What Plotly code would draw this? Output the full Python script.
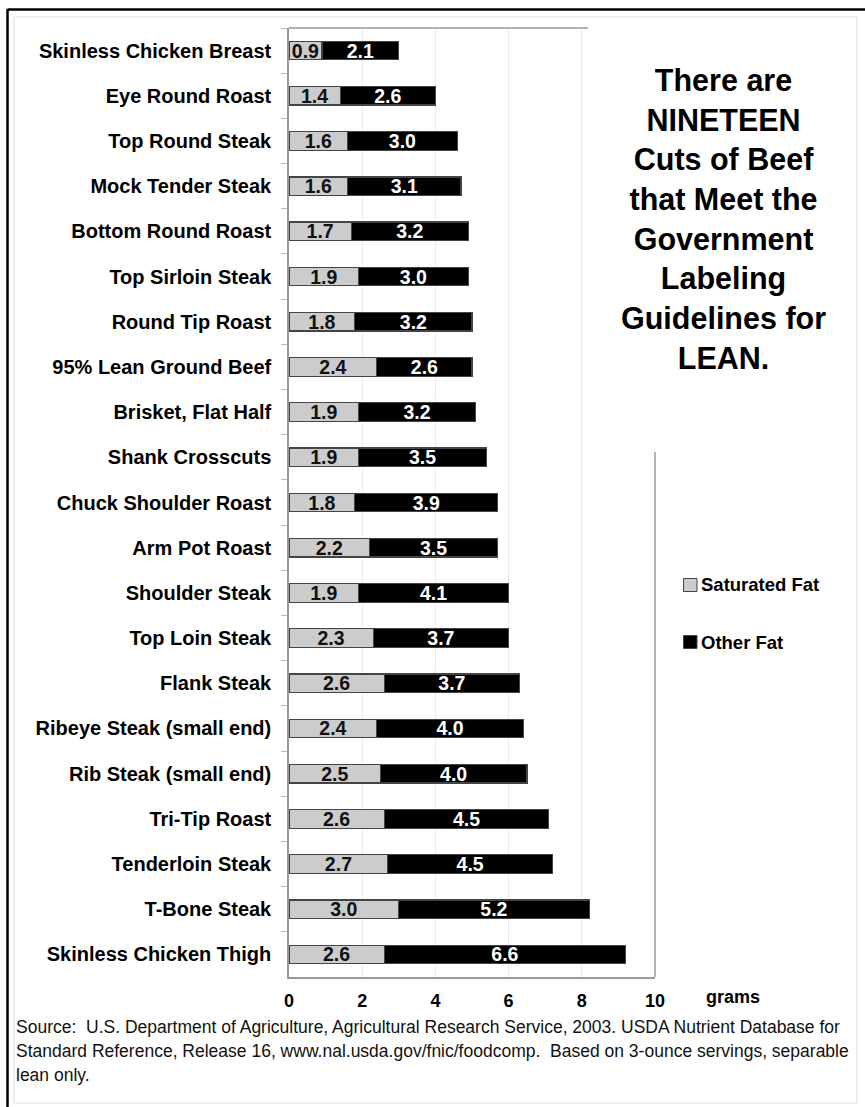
import plotly.graph_objects as go

# Lean cuts, listed top to bottom as drawn
cuts = [
    "Skinless Chicken Breast", "Eye Round Roast", "Top Round Steak",
    "Mock Tender Steak", "Bottom Round Roast", "Top Sirloin Steak",
    "Round Tip Roast", "95% Lean Ground Beef", "Brisket, Flat Half",
    "Shank Crosscuts", "Chuck Shoulder Roast", "Arm Pot Roast",
    "Shoulder Steak", "Top Loin Steak", "Flank Steak",
    "Ribeye Steak (small end)", "Rib Steak (small end)", "Tri-Tip Roast",
    "Tenderloin Steak", "T-Bone Steak", "Skinless Chicken Thigh",
]
saturated_fat = [0.9, 1.4, 1.6, 1.6, 1.7, 1.9, 1.8, 2.4, 1.9, 1.9, 1.8,
                 2.2, 1.9, 2.3, 2.6, 2.4, 2.5, 2.6, 2.7, 3.0, 2.6]
other_fat = [2.1, 2.6, 3.0, 3.1, 3.2, 3.0, 3.2, 2.6, 3.2, 3.5, 3.9,
             3.5, 4.1, 3.7, 3.7, 4.0, 4.0, 4.5, 4.5, 5.2, 6.6]
series_names = ["Saturated Fat", "Other Fat"]
x_ticks = [0, 2, 4, 6, 8, 10]
source_lines = [
    "Source:  U.S. Department of Agriculture, Agricultural Research Service, 2003. "
    "USDA Nutrient Database for",
    "Standard Reference, Release 16, www.nal.usda.gov/fnic/foodcomp.  "
    "Based on 3-ounce servings, separable",
    "lean only.",
]

W, H = 865, 1107
L, R, T, B = 289, 655, 28, 977

def px(x):
    return (x - L) / (R - L)

def py(y):
    return (B - y) / (B - T)

FONT = "Liberation Sans, Arial, sans-serif"
SAT_COLOR = "#cccccc"
OTHER_COLOR = "#000000"

fig = go.Figure()
fig.add_trace(go.Bar(
    y=cuts, x=saturated_fat, orientation="h", name=series_names[0],
    marker=dict(color=SAT_COLOR, line=dict(color="#444444", width=1.2)),
    text=[f"{v:.1f}" for v in saturated_fat], textposition="inside",
    insidetextanchor="middle", constraintext="none",
    textfont=dict(family=FONT, size=19.5, color="#111111", weight="bold"),
    showlegend=False, hoverinfo="x+y",
))
fig.add_trace(go.Bar(
    y=cuts, x=other_fat, orientation="h", name=series_names[1],
    marker=dict(color=OTHER_COLOR, line=dict(color="#444444", width=1.2)),
    text=[f"{v:.1f}" for v in other_fat], textposition="inside",
    insidetextanchor="middle", constraintext="none",
    textfont=dict(family=FONT, size=19.5, color="#ffffff", weight="bold"),
    showlegend=False, hoverinfo="x+y",
))

shapes = [
    # outer page edge (top and left) and light inner frame
    dict(type="line", xref="paper", yref="paper", x0=px(7.5), x1=px(866),
         y0=py(9.5), y1=py(9.5), line=dict(color="#000000", width=2.5), layer="above"),
    dict(type="line", xref="paper", yref="paper", x0=px(7.5), x1=px(7.5),
         y0=py(9), y1=py(1108), line=dict(color="#000000", width=2.5), layer="above"),
    dict(type="rect", xref="paper", yref="paper", x0=px(14), x1=px(857),
         y0=py(17), y1=py(1103), line=dict(color="#dddddd", width=1), layer="below"),
    # plot frame: top edge and right edge below the text box
    dict(type="line", xref="paper", yref="paper", x0=0, x1=px(588),
         y0=1, y1=1, line=dict(color="#999999", width=1.5), layer="above"),
    dict(type="line", xref="paper", yref="paper", x0=1, x1=1,
         y0=0, y1=py(452), line=dict(color="#999999", width=1.5), layer="above"),
]

annotations = [
    dict(xref="paper", yref="paper", x=px(723), y=py(61), xanchor="center", yanchor="top",
         showarrow=False, align="center",
         text="<b>There are<br>NINETEEN<br>Cuts of Beef<br>that Meet the<br>Government<br>"
              "Labeling<br>Guidelines for<br>LEAN.</b>",
         font=dict(family=FONT, size=30.5, color="#000000")),
    dict(xref="paper", yref="paper", x=px(704), y=py(997), xanchor="left", yanchor="middle",
         showarrow=False, text="<b>grams</b>",
         font=dict(family=FONT, size=18, color="#000000")),
]

# source note, one annotation per line
for i, line in enumerate(source_lines):
    annotations.append(dict(xref="paper", yref="paper", x=px(14), y=py(1027 + 24 * i),
                            xanchor="left", yanchor="middle", showarrow=False,
                            text=line, font=dict(family=FONT, size=17.5, color="#111111")))

# legend drawn as swatches and labels
legend_rows = [(585, SAT_COLOR), (642, OTHER_COLOR)]
for name, (yc, col) in zip(series_names, legend_rows):
    shapes.append(dict(type="rect", xref="paper", yref="paper",
                       x0=px(683.5), x1=px(697), y0=py(yc - 6.5), y1=py(yc + 6.5),
                       fillcolor=col, line=dict(color="#444444", width=1), layer="above"))
    annotations.append(dict(xref="paper", yref="paper", x=px(699), y=py(yc),
                            xanchor="left", yanchor="middle", showarrow=False,
                            text=f"<b>{name}</b>",
                            font=dict(family=FONT, size=18.5, color="#000000")))

fig.update_layout(
    width=W, height=H,
    margin=dict(l=L, r=W - R, t=T, b=H - B, pad=0),
    paper_bgcolor="#ffffff", plot_bgcolor="#ffffff",
    barmode="stack", bargap=0.59,
    shapes=shapes, annotations=annotations,
    xaxis=dict(range=[0, 10], tickvals=x_ticks, ticktext=[str(v) for v in x_ticks],
               showgrid=True, gridcolor="#ebebeb", gridwidth=1,
               showline=True, linecolor="#999999", linewidth=1.5,
               ticks="", zeroline=False, ticklabelstandoff=7,
               tickfont=dict(family=FONT, size=18, color="#000000", weight="bold")),
    yaxis=dict(autorange="reversed", showgrid=False,
               showline=True, linecolor="#999999", linewidth=1.5,
               ticks="outside", tickson="boundaries", ticklen=6, tickcolor="#bbbbbb",
               ticklabelstandoff=12,
               tickfont=dict(family=FONT, size=20, color="#000000", weight="bold")),
)

# white panel behind the headline text, covering the top-right of the plot frame
fig.add_shape(type="rect", xref="paper", yref="paper", x0=px(589), x1=px(856),
              y0=py(452), y1=py(18), fillcolor="#ffffff", line=dict(width=0), layer="above")

fig.write_html("out.html")
